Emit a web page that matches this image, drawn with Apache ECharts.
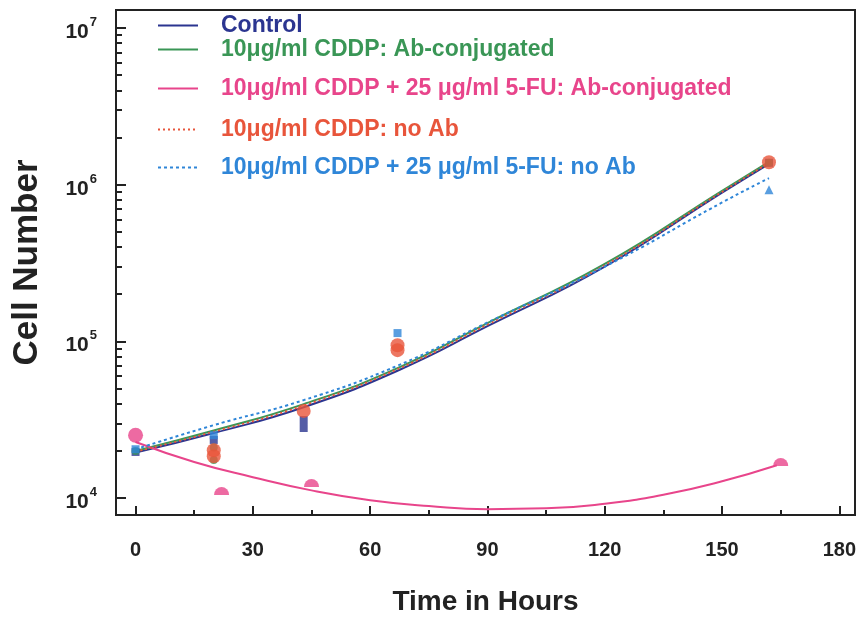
<!DOCTYPE html>
<html>
<head>
<meta charset="utf-8">
<script src="https://cdn.jsdelivr.net/npm/echarts@6/dist/echarts.min.js"></script>
<style>
  html, body { margin: 0; padding: 0; background: #fff; }
  #chart { width: 860px; height: 618px; }
</style>
</head>
<body>
<div id="chart"></div>
<script>
// legend names
var names = [
  'Control',
  '10\u03bcg/ml CDDP: Ab-conjugated',
  '10\u03bcg/ml CDDP + 25 \u03bcg/ml 5-FU: Ab-conjugated',
  '10\u03bcg/ml CDDP: no Ab',
  '10\u03bcg/ml CDDP + 25 \u03bcg/ml 5-FU: no Ab'
]
var colors = ['#2b3590', '#3a9656', '#e8458b', '#e8553b', '#2f86d8']

// axis ticks
var xMajor = [0, 30, 60, 90, 120, 150, 180]
var xMinor = [15, 45, 75, 105, 135, 165]
var yMajor = [1e4, 1e5, 1e6, 1e7]
var yMinor = [2e4, 3e4, 4e4, 5e4, 6e4, 7e4, 8e4, 9e4,
  2e5, 3e5, 4e5, 5e5, 6e5, 7e5, 8e5, 9e5,
  2e6, 3e6, 4e6, 5e6, 6e6, 7e6, 8e6, 9e6]

// fitted curves [hours, cells]
var fitControl = [[0, 19500], [20, 26000], [43, 38000], [67, 65000], [90, 125000], [120, 300000], [150, 890000], [162, 1360000]]
var fitCddpAb = [[0, 20000], [20, 27000], [43, 39800], [67, 67600], [90, 131000], [120, 312000], [150, 915000], [162, 1400000]]
var fitComboAb = [[0, 22800], [15, 17000], [30, 13600], [45, 11200], [60, 9700], [75, 8900], [90, 8500], [105, 8600], [120, 9200], [135, 10500], [150, 12800], [164, 16200]]
var fitCddpNoAb = [[0, 19800], [20, 26500], [43, 39000], [67, 66500], [90, 128000], [120, 306000], [150, 900000], [162, 1380000]]
var fitComboNoAb = [[0, 20500], [20, 29200], [43, 42200], [67, 70000], [90, 132000], [120, 300000], [150, 770000], [162, 1100000]]

// measured points [hours, cells]
var ptsControl = [[0, 19700], [20, 23500], [43, 31500], [43, 28000], [162, 1380000]]
var ptsCddpAb = [[0, 20000], [20, 21000], [20, 17500], [162, 1380000]]
var ptsComboAb = [[0, 25200], [22, 11100], [45, 12500], [165, 17000]]
var ptsCddpNoAb = [[20, 20200], [20, 18500], [43, 36000], [67, 94600], [67, 87900], [162, 1390000]]
var ptsComboNoAb = [[0, 20500], [20, 25200], [67, 113000], [162, 930000]]

var legendTops = [24, 48, 87, 128, 166]
var fits = [fitControl, fitCddpAb, fitComboAb, fitCddpNoAb, fitComboNoAb]
var lineTypes = ['solid', 'solid', 'solid', [2, 3], [3, 3]]
var halfDisc = 'path://M0,10A10,10,0,0,1,20,10Z'

var font = 'Liberation Sans, Arial, sans-serif'
var series = []
fits.forEach(function (d, i) {
  series.push({
    type: 'line',
    name: names[i],
    data: d,
    smooth: true,
    symbol: 'none',
    z: 3,
    lineStyle: { color: colors[i], width: 2, type: lineTypes[i] },
    itemStyle: { color: colors[i] }
  })
})
series.push({
  type: 'scatter', name: 'pts0', data: ptsControl, symbol: 'rect', symbolSize: 8, z: 4,
  itemStyle: { color: colors[0] }
})
series.push({
  type: 'scatter', name: 'pts1', data: ptsCddpAb, symbol: 'circle', symbolSize: 8, z: 4,
  itemStyle: { color: colors[1] }
})
series.push({
  type: 'scatter', name: 'pts2', z: 4,
  data: ptsComboAb.map(function (p, k) {
    return k === 0 ? { value: p, symbol: 'circle', symbolSize: 15 }
      : { value: p, symbol: halfDisc, symbolSize: [15, 8] }
  }),
  itemStyle: { color: colors[2] }
})
series.push({
  type: 'scatter', name: 'pts4', z: 4,
  data: ptsComboNoAb.map(function (p, k) {
    return k === ptsComboNoAb.length - 1 ? { value: p, symbol: 'triangle', symbolSize: 9 }
      : { value: p, symbol: 'rect', symbolSize: 8 }
  }),
  itemStyle: { color: colors[4] }
})
series.push({
  type: 'scatter', name: 'pts3', data: ptsCddpNoAb, symbol: 'circle', symbolSize: 14, z: 5,
  itemStyle: { color: colors[3] }
})

var legends = names.map(function (n, i) {
  return {
    data: [n],
    left: 157,
    top: legendTops[i] - 10,
    padding: 0,
    itemWidth: 40,
    itemHeight: 10,
    selectedMode: false,
    itemStyle: { opacity: 0 },
    textStyle: {
      color: colors[i], fontFamily: font, fontWeight: 'bold', fontSize: 23,
      padding: [0, 0, 0, 18]
    }
  }
})

var axisLineStyle = { color: '#222', width: 2 }
var option = {
  backgroundColor: '#fff',
  animation: false,
  legend: legends,
  grid: {
    left: 116, top: 10, right: 5, bottom: 103,
    outerBoundsMode: 'none',
    containLabel: false,
    show: true, borderColor: '#222', borderWidth: 2
  },
  xAxis: [{
    type: 'value',
    min: -5,
    max: 184,
    name: 'Time in Hours',
    nameLocation: 'middle',
    nameGap: 73,
    nameTextStyle: { fontFamily: font, fontWeight: 'bold', fontSize: 28, color: '#222' },
    axisLine: { onZero: false, lineStyle: axisLineStyle },
    axisTick: { inside: true, length: 9, customValues: xMajor, lineStyle: { color: '#222', width: 2 } },
    axisLabel: {
      customValues: xMajor, margin: 25,
      fontFamily: font, fontWeight: 'bold', fontSize: 20, color: '#222'
    },
    splitLine: { show: false }
  }, {
    type: 'value',
    min: -5,
    max: 184,
    position: 'bottom',
    axisLine: { show: false, onZero: false },
    axisTick: { inside: true, length: 5, customValues: xMinor, lineStyle: { color: '#222', width: 2 } },
    axisLabel: { show: false },
    splitLine: { show: false }
  }],
  yAxis: [{
    type: 'log',
    min: 7800,
    max: 13030000,
    name: 'Cell Number',
    nameLocation: 'middle',
    nameGap: 71,
    nameTextStyle: { fontFamily: font, fontWeight: 'bold', fontSize: 35, color: '#222' },
    axisLine: { onZero: false, lineStyle: axisLineStyle },
    axisTick: { inside: true, length: 10, customValues: yMajor, lineStyle: { color: '#222', width: 2 } },
    axisLabel: {
      customValues: yMajor, margin: 19,
      formatter: function (v) {
        return '{b|10}{s|' + Math.round(Math.log10(v)) + '}'
      },
      rich: {
        b: { fontFamily: font, fontWeight: 'bold', fontSize: 21, color: '#222', padding: [8, 0, 0, 0] },
        s: { fontFamily: font, fontWeight: 'bold', fontSize: 13, color: '#222', padding: [0, 0, 11, 1] }
      }
    },
    splitLine: { show: false }
  }, {
    type: 'log',
    min: 7800,
    max: 13030000,
    position: 'left',
    axisLine: { show: false, onZero: false },
    axisTick: { inside: true, length: 6, customValues: yMinor, lineStyle: { color: '#222', width: 2 } },
    axisLabel: { show: false },
    splitLine: { show: false }
  }],
  series: series
}

var chart = echarts.init(document.getElementById('chart'))
chart.setOption(option)
</script>
</body>
</html>
